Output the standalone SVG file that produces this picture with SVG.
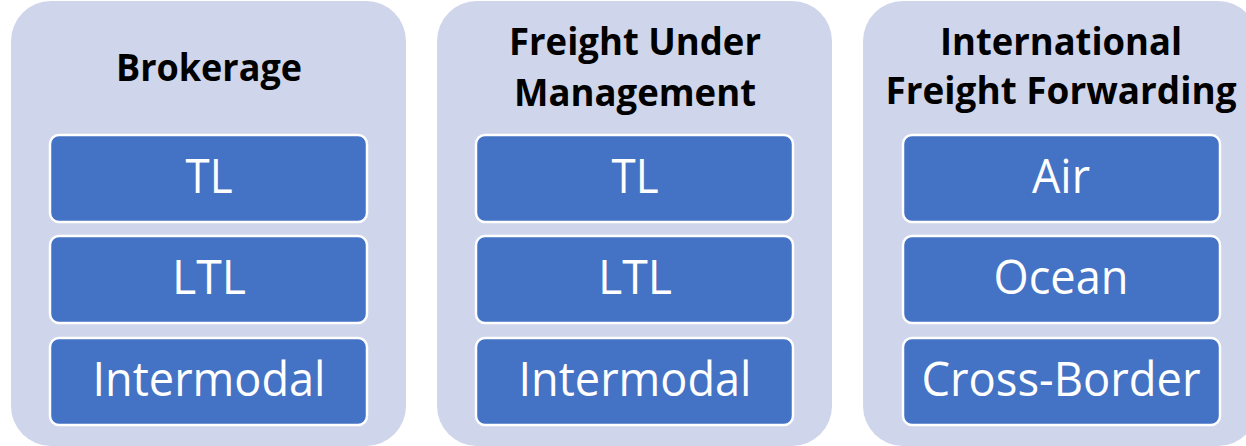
<svg xmlns="http://www.w3.org/2000/svg" width="1246" height="446" viewBox="0 0 1246 446">
<style>
.panel{fill:#CFD5EA}
.box{fill:#4472C4;stroke:#FFFFFF;stroke-width:2.5}
.title{font-family:"Open Sans","Noto Sans",sans-serif;font-weight:bold;font-size:38px;fill:#000;text-anchor:middle}
.lbl{font-family:"Open Sans","Noto Sans",sans-serif;font-size:48px;fill:#FFF;text-anchor:middle}
</style>
<rect width="1246" height="446" fill="#FFFFFF"/>
<g id="brokerage">
<rect class="panel" x="11" y="1" width="395" height="445" rx="40"/>
<text class="title" x="209" y="81" textLength="186" lengthAdjust="spacingAndGlyphs">Brokerage</text>
<g id="b-tl"><rect class="box" x="50" y="135" width="317" height="87" rx="9"/><text class="lbl" x="209" y="193" textLength="47" lengthAdjust="spacingAndGlyphs">TL</text></g>
<g id="b-ltl"><rect class="box" x="50" y="236" width="317" height="87" rx="9"/><text class="lbl" x="209" y="294" textLength="74" lengthAdjust="spacingAndGlyphs">LTL</text></g>
<g id="b-int"><rect class="box" x="50" y="338" width="317" height="87" rx="9"/><text class="lbl" x="209" y="396" textLength="233" lengthAdjust="spacingAndGlyphs">Intermodal</text></g>
</g>
<g id="fum">
<rect class="panel" x="437" y="1" width="395" height="445" rx="40"/>
<text class="title" x="635" y="55" textLength="252" lengthAdjust="spacingAndGlyphs">Freight Under</text>
<text class="title" x="635" y="106" textLength="242" lengthAdjust="spacingAndGlyphs">Management</text>
<g id="f-tl"><rect class="box" x="476" y="135" width="317" height="87" rx="9"/><text class="lbl" x="635" y="193" textLength="47" lengthAdjust="spacingAndGlyphs">TL</text></g>
<g id="f-ltl"><rect class="box" x="476" y="236" width="317" height="87" rx="9"/><text class="lbl" x="635" y="294" textLength="74" lengthAdjust="spacingAndGlyphs">LTL</text></g>
<g id="f-int"><rect class="box" x="476" y="338" width="317" height="87" rx="9"/><text class="lbl" x="635" y="396" textLength="233" lengthAdjust="spacingAndGlyphs">Intermodal</text></g>
</g>
<g id="iff">
<rect class="panel" x="863" y="1" width="395" height="445" rx="40"/>
<text class="title" x="1061" y="55" textLength="242" lengthAdjust="spacingAndGlyphs">International</text>
<text class="title" x="1061" y="104" textLength="351" lengthAdjust="spacingAndGlyphs">Freight Forwarding</text>
<g id="i-air"><rect class="box" x="903" y="135" width="317" height="87" rx="9"/><text class="lbl" x="1061" y="193" textLength="58" lengthAdjust="spacingAndGlyphs">Air</text></g>
<g id="i-ocean"><rect class="box" x="903" y="236" width="317" height="87" rx="9"/><text class="lbl" x="1061" y="294" textLength="135" lengthAdjust="spacingAndGlyphs">Ocean</text></g>
<g id="i-cb"><rect class="box" x="903" y="338" width="317" height="87" rx="9"/><text class="lbl" x="1061" y="396" textLength="279" lengthAdjust="spacingAndGlyphs">Cross-Border</text></g>
</g>
<g id="connectors"/>
</svg>
